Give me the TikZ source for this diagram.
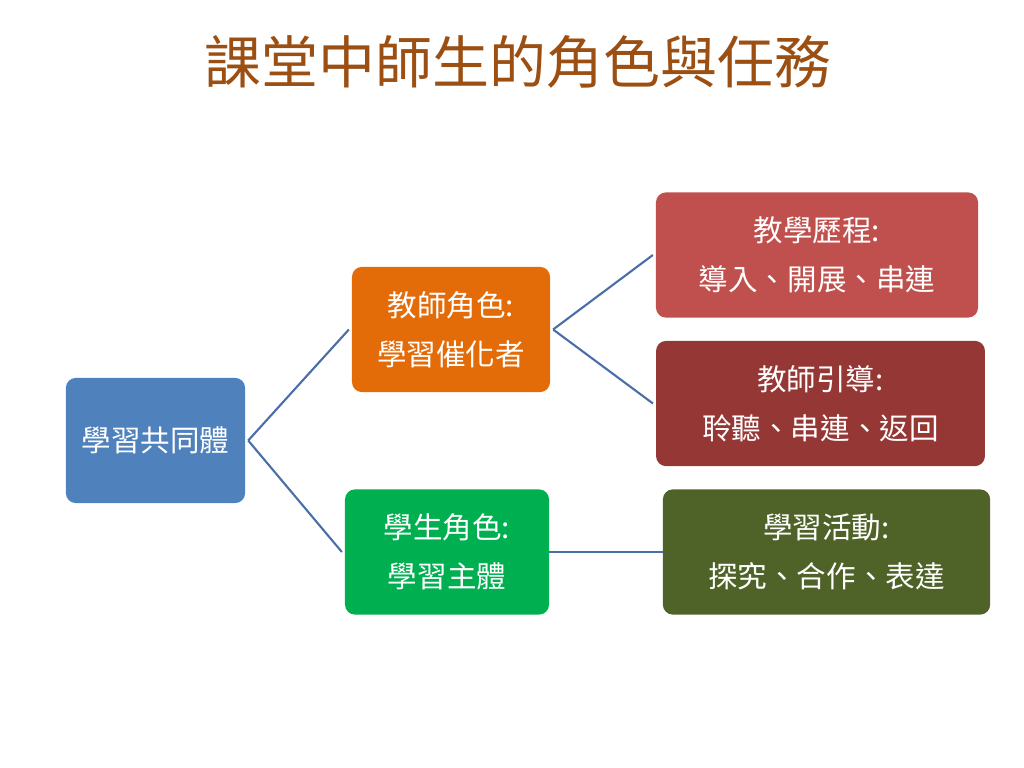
\documentclass[tikz,border=0pt]{standalone}
\usepackage{fontspec}
\setmainfont{Noto Sans CJK TC}
\usepackage{xcolor}
\usetikzlibrary{positioning}

\definecolor{titlebrown}{HTML}{9C4F12}
\definecolor{rootblue}{HTML}{4F81BD}
\definecolor{roleorange}{HTML}{E36C09}
\definecolor{rolegreen}{HTML}{00B050}
\definecolor{procred}{HTML}{C0504D}
\definecolor{guidered}{HTML}{953735}
\definecolor{actgreen}{HTML}{4F6228}
\definecolor{linkblue}{HTML}{4A6EA8}

\begin{document}
\begin{tikzpicture}[x=0.025cm,y=-0.025cm,
    box/.style={draw=none, rounded corners=0.25cm, text=white, align=center,
        font=\fontsize{21}{35}\selectfont, minimum height=3.13cm, inner sep=0pt},
    link/.style={draw=linkblue, line width=1.5pt}]
    \useasboundingbox (0,0) rectangle (1024,768);
    \node[text=titlebrown, font=\fontsize{40.5}{48}\selectfont] (title) at (518,62) {課堂中師生的角色與任務};
    \node[box, fill=rootblue, minimum width=4.48cm] (root) at (155.5,440.5) {學習共同體};
    \node[box, fill=roleorange, minimum width=4.95cm] (teacher) at (451,329.5) {教師角色:\\學習催化者};
    \node[box, fill=rolegreen, minimum width=5.1cm] (student) at (447,552) {學生角色:\\學習主體};
    \node[box, fill=procred, minimum width=8.05cm] (process) at (817,255) {教學歷程:\\導入、開展、串連};
    \node[box, fill=guidered, minimum width=8.22cm] (guide) at (820.5,403.5) {教師引導:\\聆聽、串連、返回};
    \node[box, fill=actgreen, minimum width=8.18cm] (activity) at (826.5,552) {學習活動:\\探究、合作、表達};
    \draw [link] ([xshift=2pt]root.east) -- ([xshift=-2pt]teacher.west);
    \draw [link] ([xshift=2pt]root.east) -- ([xshift=-2pt]student.west);
    \draw [link] ([xshift=2pt]teacher.east) -- ([xshift=-2pt]process.west);
    \draw [link] ([xshift=2pt]teacher.east) -- ([xshift=-2pt]guide.west);
    \draw [link] (student.east) -- (activity.west);
\end{tikzpicture}
\end{document}
